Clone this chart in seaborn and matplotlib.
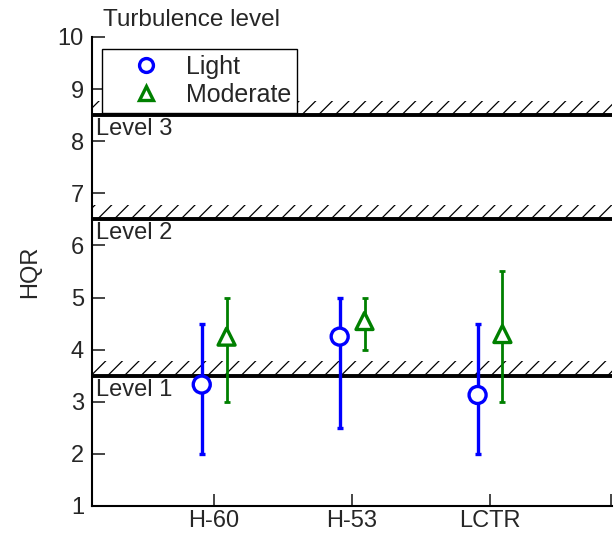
import numpy as np
import pandas as pd
import seaborn as sns
import matplotlib.pyplot as plt

# ------------------------ Data ------------------------
aircraft = ['H-60', 'H-53', 'LCTR']
light_hqr = [3.33, 4.25, 3.13]
light_low = [2.0, 2.5, 2.0]
light_high = [4.5, 5.0, 4.5]
moderate_hqr = [4.25, 4.55, 4.3]
moderate_low = [3.0, 4.0, 3.0]
moderate_high = [5.0, 5.0, 5.5]
level_values = [3.5, 6.5, 8.5]
level_names = ['Level 1', 'Level 2', 'Level 3']

# ------------------------ Styling Setup ------------------------
sns.set_theme(style='ticks')
plt.rcParams['font.family'] = ['Liberation Sans', 'DejaVu Sans']
plt.rcParams.update({
    'xtick.direction': 'in',
    'ytick.direction': 'in',
    'xtick.major.size': 9,
    'ytick.major.size': 9,
    'xtick.major.width': 1.2,
    'ytick.major.width': 1.2,
    'axes.linewidth': 1.5,
    'axes.edgecolor': 'black',
    'hatch.linewidth': 0.9,
})

offset = 0.09
xpos = np.arange(1, len(aircraft) + 1)
df = pd.DataFrame({
    'x': np.concatenate([xpos - offset, xpos + offset]),
    'HQR': light_hqr + moderate_hqr,
    'low': light_low + moderate_low,
    'high': light_high + moderate_high,
    'Turbulence': ['Light'] * 3 + ['Moderate'] * 3,
})
colors = {'Light': 'blue', 'Moderate': 'green'}
markers = {'Light': 'o', 'Moderate': '^'}
lw = {'Light': 2.4, 'Moderate': 2.0}

fig = plt.figure(figsize=(6.15, 5.36), dpi=100)
ax = fig.add_axes([0.15, 0.056, 0.845, 0.875])

# level boundaries with hatched band above
for val, name in zip(level_values, level_names):
    ax.axhspan(val, val + 0.28, facecolor='none', edgecolor='black', hatch='//', linewidth=0)
    ax.axhline(val, color='black', linewidth=2.8, zorder=2)
    ax.text(0.14, val - 0.06, name, fontsize=17, va='top', ha='left', zorder=3)

# error bars
for grp, sub in df.groupby('Turbulence'):
    ax.errorbar(sub['x'], sub['HQR'],
                yerr=[sub['HQR'] - sub['low'], sub['high'] - sub['HQR']],
                fmt='none', ecolor=colors[grp], elinewidth=lw[grp],
                capsize=2.5, capthick=lw[grp], zorder=4)

sns.scatterplot(data=df, x='x', y='HQR', hue='Turbulence', style='Turbulence',
                palette=colors, markers=markers, s=150, facecolor='white',
                linewidth=2.4, ax=ax, zorder=5, legend=False)
# marker edges take the group colour, faces stay white
coll = ax.collections[-1]
coll.set_edgecolors([colors[g] for g in df['Turbulence']])
coll.set_facecolors('white')

# legend
handles = [plt.Line2D([], [], linestyle='none', marker=markers[g], markersize=10,
                      markerfacecolor='white', markeredgecolor=colors[g],
                      markeredgewidth=2.4, label=g) for g in ['Light', 'Moderate']]
leg = ax.legend(handles=handles, loc='upper left', bbox_to_anchor=(0.019, 0.975),
                borderaxespad=0, fontsize=18, frameon=True, fancybox=False,
                framealpha=1, edgecolor='black', handletextpad=0.1, borderpad=0.25,
                labelspacing=0.15, handlelength=3.0)
leg.get_frame().set_linewidth(1.0)
leg.set_zorder(10)

ax.text(0.021, 1.012, 'Turbulence level', transform=ax.transAxes, fontsize=17.5,
        ha='left', va='bottom')

ax.set_xlim(0.116, 3.884)
ax.set_ylim(1, 10)
ax.set_xticks(list(xpos) + [3.88])
ax.set_xticklabels(aircraft + [''], fontsize=17)
ax.set_yticks(range(1, 11))
ax.tick_params(axis='y', labelsize=17, pad=6)
ax.tick_params(axis='x', pad=3)
ax.set_xlabel('')
ax.set_ylabel('HQR', fontsize=17, labelpad=12)
sns.despine(ax=ax)

fig.savefig('out.png', dpi=100)
